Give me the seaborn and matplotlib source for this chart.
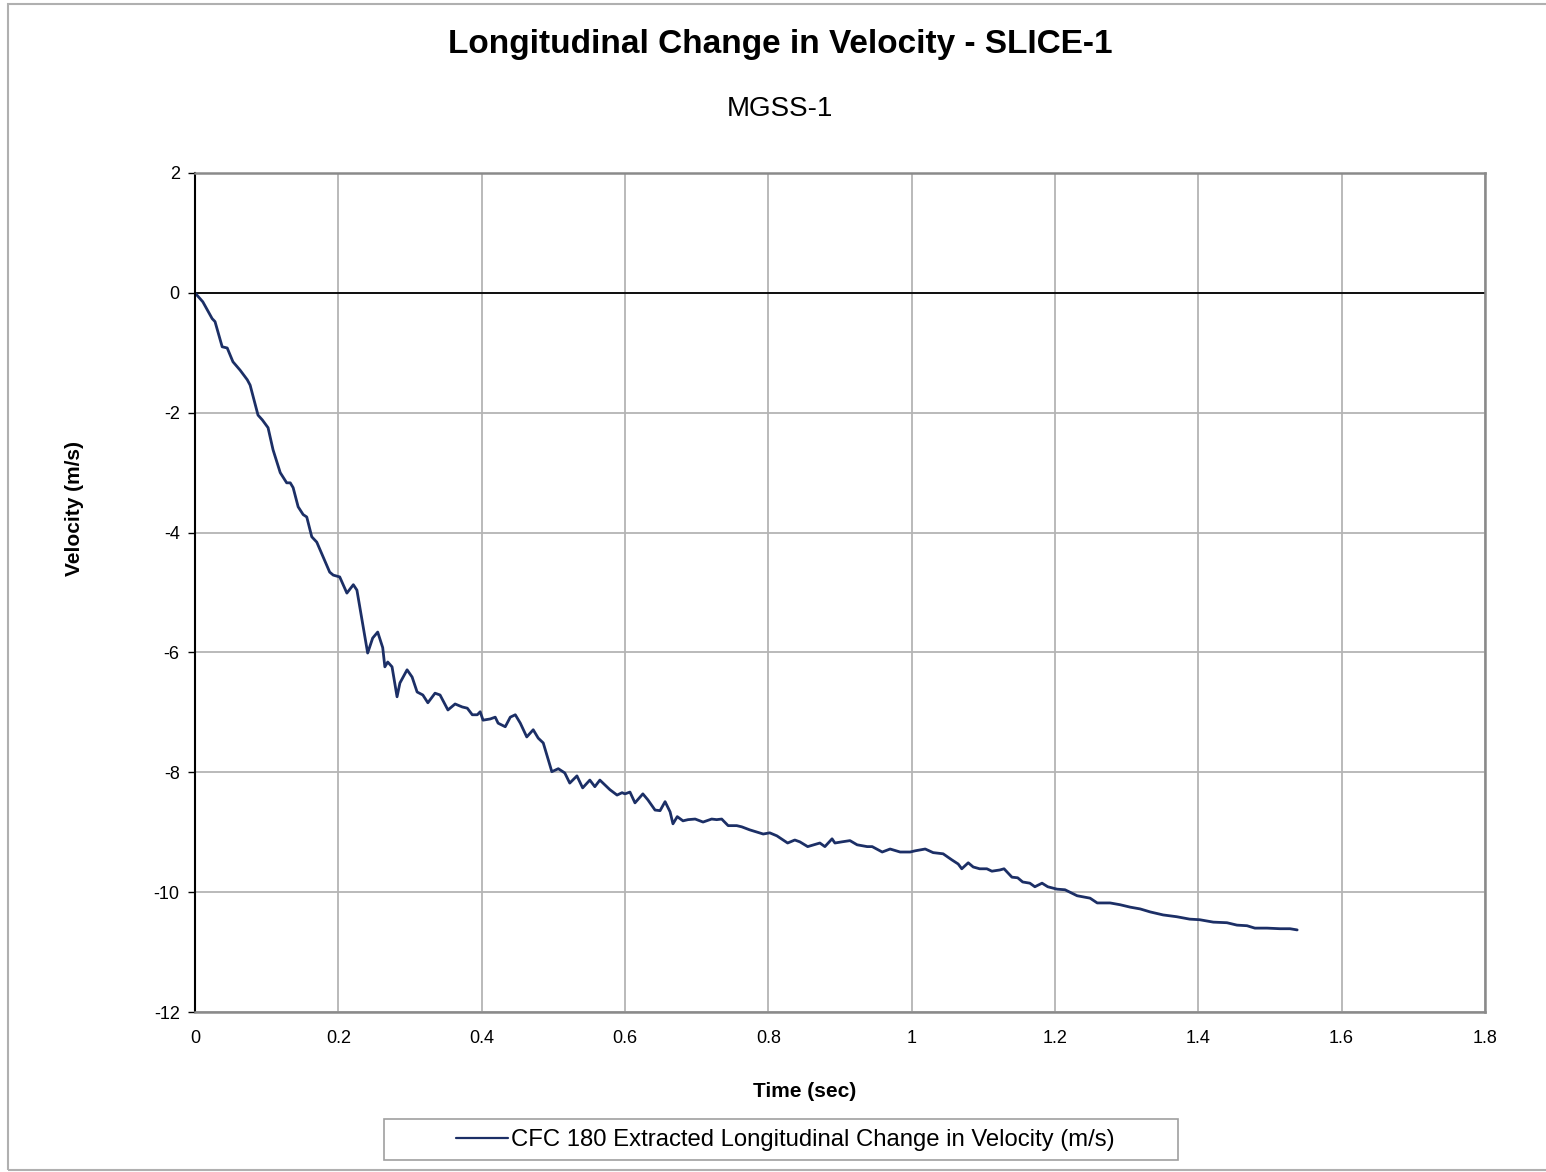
"""Longitudinal change in velocity for SLICE-1 (MGSS-1)."""

import matplotlib

matplotlib.use("Agg")
import matplotlib.pyplot as plt
import pandas as pd
import seaborn as sns
from matplotlib.patches import Rectangle

time_sec = [
    0.0, 0.011, 0.024, 0.028, 0.038, 0.045, 0.053, 0.063, 0.073, 0.077,
    0.088, 0.094, 0.102, 0.109, 0.119, 0.128, 0.133, 0.137, 0.144, 0.151,
    0.156, 0.163, 0.170, 0.188, 0.193, 0.202, 0.212, 0.221, 0.226, 0.241,
    0.248, 0.255, 0.262, 0.265, 0.269, 0.275, 0.282, 0.286, 0.296, 0.303,
    0.310, 0.318, 0.325, 0.335, 0.342, 0.353, 0.363, 0.373, 0.380, 0.387,
    0.394, 0.398, 0.402, 0.412, 0.419, 0.423, 0.433, 0.440, 0.447, 0.454,
    0.463, 0.472, 0.479, 0.486, 0.498, 0.507, 0.516, 0.523, 0.533, 0.541,
    0.551, 0.558, 0.565, 0.579, 0.589, 0.596, 0.600, 0.607, 0.614, 0.625,
    0.632, 0.642, 0.649, 0.656, 0.663, 0.667, 0.673, 0.681, 0.688, 0.698,
    0.709, 0.721, 0.728, 0.735, 0.744, 0.756, 0.763, 0.774, 0.793, 0.802,
    0.812, 0.827, 0.837, 0.844, 0.855, 0.872, 0.879, 0.889, 0.893, 0.903,
    0.914, 0.924, 0.938, 0.945, 0.959, 0.970, 0.984, 0.998, 1.005, 1.019,
    1.030, 1.044, 1.056, 1.065, 1.070, 1.079, 1.086, 1.095, 1.105, 1.112,
    1.123, 1.129, 1.140, 1.148, 1.155, 1.165, 1.172, 1.182, 1.190, 1.203,
    1.214, 1.231, 1.249, 1.259, 1.277, 1.291, 1.305, 1.319, 1.333, 1.351,
    1.370, 1.388, 1.402, 1.421, 1.440, 1.454, 1.468, 1.479, 1.496, 1.514,
    1.528, 1.538,
]
velocity = [
    0.0, -0.15, -0.43, -0.48, -0.90, -0.92, -1.15, -1.29, -1.45, -1.54,
    -2.04, -2.12, -2.25, -2.62, -3.00, -3.17, -3.17, -3.25, -3.57, -3.70,
    -3.74, -4.07, -4.16, -4.66, -4.71, -4.74, -5.01, -4.87, -4.96, -6.01,
    -5.76, -5.66, -5.92, -6.24, -6.16, -6.24, -6.74, -6.51, -6.29, -6.41,
    -6.66, -6.71, -6.84, -6.68, -6.71, -6.96, -6.86, -6.91, -6.93, -7.04,
    -7.04, -6.99, -7.13, -7.11, -7.08, -7.18, -7.24, -7.08, -7.04, -7.18,
    -7.41, -7.29, -7.43, -7.51, -7.99, -7.94, -8.01, -8.18, -8.06, -8.26,
    -8.13, -8.24, -8.13, -8.29, -8.38, -8.34, -8.36, -8.33, -8.51, -8.36,
    -8.46, -8.63, -8.64, -8.49, -8.66, -8.86, -8.74, -8.81, -8.79, -8.78,
    -8.83, -8.78, -8.79, -8.78, -8.89, -8.89, -8.91, -8.96, -9.03, -9.01,
    -9.06, -9.18, -9.13, -9.16, -9.24, -9.18, -9.24, -9.11, -9.18, -9.16,
    -9.14, -9.21, -9.24, -9.24, -9.33, -9.28, -9.33, -9.33, -9.31, -9.28,
    -9.34, -9.36, -9.46, -9.53, -9.61, -9.51, -9.58, -9.61, -9.61, -9.65,
    -9.63, -9.61, -9.75, -9.76, -9.83, -9.85, -9.91, -9.85, -9.91, -9.95,
    -9.96, -10.06, -10.10, -10.18, -10.18, -10.21, -10.25, -10.28, -10.33, -10.38,
    -10.41, -10.45, -10.46, -10.50, -10.51, -10.55, -10.56, -10.60, -10.60, -10.61,
    -10.61, -10.63,
]

x_ticks = [0, 0.2, 0.4, 0.6, 0.8, 1, 1.2, 1.4, 1.6, 1.8]
x_tick_labels = ["0", "0.2", "0.4", "0.6", "0.8", "1", "1.2", "1.4", "1.6", "1.8"]
y_ticks = [2, 0, -2, -4, -6, -8, -10, -12]
series_label = "CFC 180 Extracted Longitudinal Change in Velocity (m/s)"


def main() -> None:
    df = pd.DataFrame({"time": time_sec, "velocity": velocity})

    sns.set_theme(style="whitegrid")
    plt.rcParams["font.family"] = ["Liberation Sans", "DejaVu Sans"]
    plt.rcParams["axes.unicode_minus"] = False
    plt.rcParams["text.color"] = "black"
    plt.rcParams["axes.labelcolor"] = "black"

    fig = plt.figure(figsize=(15.46, 11.72), dpi=100)
    ax = fig.add_axes([0.1261, 0.1365, 0.8344, 0.7159])

    sns.lineplot(
        data=df,
        x="time",
        y="velocity",
        color="#1c2f66",
        linewidth=2.0,
        label=series_label,
        ax=ax,
    )
    ax.axhline(0, color="black", linewidth=1.3, zorder=1)

    ax.set_xlim(0, 1.8)
    ax.set_ylim(-12, 2)
    ax.set_xticks(x_ticks)
    ax.set_xticklabels(x_tick_labels)
    ax.set_yticks(y_ticks)
    ax.grid(True, color="#b4b4b4", linewidth=1.3)
    ax.set_facecolor("white")
    ax.tick_params(axis="both", labelsize=13, colors="black", length=0, pad=13)
    ax.tick_params(axis="y", length=5, width=1, color="black", pad=6, left=True)

    for name, spine in ax.spines.items():
        spine.set_visible(True)
        spine.set_color("#8a8a8a")
        spine.set_linewidth(1.8)
    ax.spines["left"].set_color("black")
    ax.spines["left"].set_linewidth(1.5)

    ax.set_xlabel("Time (sec)", fontsize=15, fontweight="bold")
    ax.xaxis.set_label_coords(0.473, -0.083)
    ax.set_ylabel("Velocity (m/s)", fontsize=15, fontweight="bold")
    ax.yaxis.set_label_coords(-0.086, 0.60)

    fig.text(0.5045, 0.962, "Longitudinal Change in Velocity - SLICE-1",
             ha="center", va="center", fontsize=24, fontweight="bold")
    fig.text(0.5045, 0.907, "MGSS-1", ha="center", va="center", fontsize=20)

    leg = ax.legend(
        loc="center",
        bbox_to_anchor=(785 / 1546, 1 - 1140 / 1172),
        bbox_transform=fig.transFigure,
        fontsize=17.2,
        frameon=False,
        handlelength=2.2,
        handletextpad=0.1,
    )
    for line in leg.get_lines():
        line.set_linewidth(1.6)

    # legend box, wider than its content as in the source chart
    fig.patches.append(
        Rectangle((384 / 1546, 1 - 1160 / 1172), 794 / 1546, 41 / 1172,
                  transform=fig.transFigure, fill=False,
                  edgecolor="#a0a0a0", linewidth=1.2)
    )
    # outer chart border
    fig.patches.append(
        Rectangle((8 / 1546, 2 / 1172), 1.0, 1166 / 1172,
                  transform=fig.transFigure, fill=False,
                  edgecolor="#b0b0b0", linewidth=1.5)
    )

    fig.savefig("out.png", dpi=100, facecolor="white")
    plt.close(fig)


if __name__ == "__main__":
    main()
